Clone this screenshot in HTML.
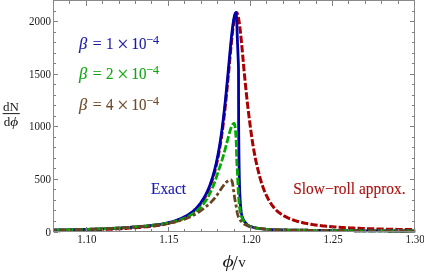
<!DOCTYPE html>
<html><head><meta charset="utf-8"><title>plot</title>
<style>
html,body{margin:0;padding:0;background:#fff;}
body{width:424px;height:273px;overflow:hidden;font-family:"Liberation Serif",serif;}
svg{display:block;will-change:transform;}
svg text{font-family:"Liberation Serif",serif;}
</style></head><body>
<svg width="424" height="273" viewBox="0 0 424 273">
<rect width="424" height="273" fill="#fff"/>
<defs><clipPath id="cp"><rect x="53" y="0" width="362.7" height="240"/></clipPath></defs>
<g fill="none" stroke-linejoin="miter" stroke-miterlimit="6" clip-path="url(#cp)">
<path d="M53.50,230.73 L55.50,230.71 L56.25,230.70 M58.41,230.66 L59.50,230.65 L61.50,230.62 L63.50,230.58 L65.50,230.55 L65.71,230.54 M67.87,230.50 L69.50,230.47 L71.50,230.43 L73.50,230.39 L75.16,230.36 M77.32,230.31 L77.50,230.31 L79.50,230.26 L81.50,230.21 L83.50,230.16 L84.62,230.13 M86.78,230.07 L87.50,230.05 L89.50,230.00 L91.50,229.94 L93.50,229.88 L94.08,229.86 M96.24,229.79 L97.50,229.74 L99.50,229.67 L101.50,229.60 L103.50,229.52 L103.53,229.52 M105.69,229.44 L107.50,229.36 L109.50,229.27 L111.50,229.18 L112.98,229.11 M115.14,229.00 L115.50,228.98 L117.50,228.87 L119.50,228.76 L121.50,228.64 L122.43,228.58 M124.58,228.44 L125.50,228.38 L127.50,228.24 L129.50,228.09 L131.50,227.95 L131.86,227.92 M134.02,227.78 L135.50,227.68 L137.50,227.53 L139.50,227.38 L141.30,227.23 M143.45,227.05 L143.50,227.04 L145.50,226.86 L147.50,226.66 L149.50,226.45 L150.71,226.32 M152.86,226.07 L153.50,225.99 L155.50,225.73 L157.50,225.46 L159.50,225.17 L160.09,225.07 M162.22,224.71 L163.50,224.48 L165.50,224.07 L167.50,223.63 L169.36,223.19 M171.45,222.65 L171.50,222.64 L173.50,222.08 L175.50,221.46 L177.50,220.77 L178.40,220.42 M180.40,219.62 L181.50,219.15 L183.50,218.22 L185.50,217.18 L186.93,216.36 M188.77,215.23 L189.50,214.75 L190.00,214.41 L190.25,214.24 L190.50,214.06 L190.75,213.88 L191.00,213.69 L191.25,213.51 L191.50,213.32 L191.75,213.13 L192.00,212.94 L192.25,212.74 L192.50,212.54 L192.75,212.34 L193.00,212.13 L193.25,211.92 L193.50,211.71 L193.75,211.49 L194.00,211.27 L194.25,211.05 L194.50,210.83 L194.55,210.78 M196.11,209.29 L196.25,209.15 L196.50,208.89 L196.75,208.63 L197.00,208.37 L197.25,208.10 L197.50,207.82 L197.75,207.55 L198.00,207.27 L198.25,206.98 L198.50,206.69 L198.75,206.39 L199.00,206.09 L199.25,205.78 L199.50,205.47 L199.75,205.16 L200.00,204.83 L200.25,204.51 L200.50,204.17 L200.75,203.83 L200.83,203.73 M202.06,201.96 L202.25,201.67 L202.50,201.29 L202.75,200.92 L203.00,200.54 L203.25,200.15 L203.50,199.76 L203.75,199.37 L204.00,198.96 L204.25,198.55 L204.50,198.13 L204.75,197.70 L205.00,197.26 L205.25,196.82 L205.50,196.36 L205.75,195.90 L205.85,195.72 M206.83,193.80 L207.00,193.46 L207.25,192.94 L207.50,192.41 L207.75,191.88 L208.00,191.33 L208.25,190.77 L208.50,190.20 L208.75,189.61 L209.00,189.02 L209.25,188.41 L209.50,187.80 L209.75,187.17 L209.77,187.12 M210.53,185.10 L210.75,184.51 L211.00,183.81 L211.25,183.10 L211.50,182.37 L211.75,181.62 L212.00,180.86 L212.25,180.09 L212.50,179.29 L212.75,178.48 L212.84,178.17 M213.46,176.10 L213.50,175.95 L213.75,175.10 L214.00,174.22 L214.25,173.34 L214.50,172.43 L214.75,171.50 L215.00,170.55 L215.25,169.58 L215.38,169.06 M215.90,166.96 L216.00,166.53 L216.25,165.47 L216.50,164.38 L216.75,163.27 L217.00,162.14 L217.25,160.98 L217.49,159.84 M217.92,157.72 L218.00,157.34 L218.25,156.07 L218.50,154.77 L218.75,153.45 L219.00,152.09 L219.25,150.70 L219.28,150.55 M219.65,148.42 L219.75,147.83 L220.00,146.35 L220.25,144.83 L220.50,143.28 L220.75,141.69 L220.82,141.22 M221.15,139.08 L221.25,138.41 L221.50,136.72 L221.75,134.97 L222.00,133.18 L222.18,131.86 M222.47,129.72 L222.50,129.49 L222.75,127.59 L223.00,125.65 L223.25,123.66 L223.40,122.47 M223.66,120.33 L223.75,119.58 L224.00,117.48 L224.25,115.34 L224.50,113.15 L224.51,113.08 M224.75,110.93 L224.75,110.93 L225.00,108.67 L225.25,106.37 L225.50,104.03 L225.54,103.68 M225.76,101.53 L226.00,99.24 L226.25,96.79 L226.50,94.31 L226.50,94.27 M226.72,92.12 L226.75,91.79 L227.00,89.24 L227.25,86.67 L227.42,84.85 M227.63,82.70 L227.75,81.43 L228.00,78.78 L228.25,76.11 L228.31,75.43 M228.51,73.28 L228.75,70.75 L229.00,68.06 L229.19,66.01 M229.39,63.86 L229.50,62.66 L229.75,59.97 L230.00,57.29 L230.06,56.59 M230.27,54.44 L230.50,51.97 L230.75,49.35 L230.96,47.18 M231.17,45.03 L231.25,44.21 L231.50,41.71 L231.75,39.26 L231.91,37.76 M232.14,35.62 L232.25,34.55 L232.50,32.31 L232.75,30.15 L232.97,28.36 M233.24,26.22 L233.25,26.11 L233.50,24.25 L233.75,22.50 L234.00,20.88 L234.25,19.39 L234.32,19.00 M234.74,16.88 L234.75,16.81 L235.00,15.74 L235.25,14.83 L235.50,14.07 L235.75,13.48 L236.00,13.05 L236.25,12.79 L236.50,12.70 L236.75,12.79 L237.00,13.04 L237.25,13.47 L237.50,14.07 L237.75,14.83 L237.76,14.88 M238.28,16.98 L238.50,18.06 L238.75,19.45 L239.00,20.97 L239.25,22.63 L239.47,24.18 M239.75,26.32 L239.75,26.32 L240.00,28.34 L240.25,30.46 L240.50,32.69 L240.60,33.57 M240.82,35.72 L241.00,37.39 L241.25,39.86 L241.50,42.40 L241.56,42.98 M241.76,45.13 L242.00,47.64 L242.25,50.33 L242.44,52.40 M242.64,54.55 L242.75,55.81 L243.00,58.58 L243.25,61.38 L243.29,61.82 M243.48,63.97 L243.50,64.19 L243.75,67.00 L244.00,69.81 L244.14,71.24 M244.34,73.39 L244.50,75.03 L244.75,77.61 L245.00,80.17 L245.05,80.66 M245.26,82.81 L245.50,85.20 L245.75,87.66 L246.00,90.07 M246.22,92.22 L246.25,92.50 L246.50,94.86 L246.75,97.18 L247.00,99.47 L247.00,99.48 M247.24,101.62 L247.25,101.72 L247.50,103.93 L247.75,106.10 L248.00,108.23 L248.08,108.88 M248.33,111.02 L248.50,112.38 L248.75,114.39 L249.00,116.36 L249.25,118.26 M249.53,120.40 L249.75,122.22 L250.00,124.21 L250.25,126.17 L250.44,127.65 M250.73,129.79 L250.75,129.96 L251.00,131.80 L251.25,133.60 L251.50,135.37 L251.74,137.02 M252.06,139.15 L252.25,140.44 L252.50,142.06 L252.75,143.65 L253.00,145.20 L253.19,146.36 M253.55,148.50 L253.75,149.65 L254.00,151.07 L254.25,152.46 L254.50,153.82 L254.75,155.15 L254.85,155.68 M255.26,157.80 L255.50,158.97 L255.75,160.18 L256.00,161.37 L256.25,162.54 L256.50,163.68 L256.75,164.79 L256.78,164.94 M257.27,167.04 L257.50,167.98 L257.75,169.00 L258.00,170.00 L258.25,170.97 L258.50,171.93 L258.75,172.94 L259.00,173.93 L259.05,174.12 M259.60,176.21 L259.75,176.78 L260.00,177.68 L260.25,178.57 L260.50,179.44 L260.75,180.29 L261.00,181.13 L261.25,181.94 L261.50,182.74 L261.65,183.22 M262.33,185.27 L262.50,185.77 L262.75,186.49 L263.00,187.20 L263.25,187.89 L263.50,188.56 L263.75,189.22 L264.00,189.87 L264.25,190.50 L264.50,191.13 L264.75,191.74 L264.90,192.10 M265.76,194.08 L266.00,194.60 L266.25,195.14 L266.50,195.67 L266.75,196.19 L267.00,196.70 L267.25,197.20 L267.50,197.69 L267.75,198.17 L268.00,198.64 L268.25,199.10 L268.50,199.55 L268.75,200.00 L269.00,200.43 L269.08,200.58 M270.20,202.42 L270.25,202.50 L270.50,202.89 L270.75,203.27 L271.00,203.65 L271.25,204.02 L271.50,204.38 L271.75,204.74 L272.00,205.09 L272.25,205.43 L272.50,205.77 L272.75,206.10 L273.00,206.43 L273.25,206.75 L273.50,207.06 L273.75,207.37 L274.00,207.67 L274.25,207.97 L274.50,208.26 L274.53,208.29 M275.98,209.90 L276.00,209.92 L276.25,210.18 L276.50,210.43 L276.75,210.66 L277.00,210.88 L277.25,211.09 L277.50,211.31 L277.75,211.52 L278.00,211.72 L278.25,211.93 L278.50,212.13 L278.75,212.32 L279.00,212.52 L279.25,212.71 L279.50,212.90 L279.75,213.08 L280.00,213.26 L280.25,213.44 L280.50,213.62 L280.75,213.79 L281.00,213.96 L281.25,214.13 L281.50,214.30 L281.69,214.42 M283.52,215.56 L283.75,215.69 L284.00,215.84 L284.25,215.98 L284.50,216.12 L284.75,216.26 L285.00,216.39 L286.00,216.92 L287.00,217.41 L288.00,217.89 L289.00,218.33 L290.00,218.76 L290.07,218.78 M292.08,219.57 L293.00,219.91 L294.00,220.26 L295.00,220.59 L296.00,220.90 L297.00,221.20 L298.00,221.49 L299.00,221.77 L299.03,221.78 M301.13,222.31 L302.00,222.52 L303.00,222.75 L304.00,222.98 L305.00,223.19 L306.00,223.39 L307.00,223.59 L308.00,223.78 L308.27,223.82 M310.39,224.20 L311.00,224.30 L312.00,224.46 L313.00,224.61 L314.00,224.76 L315.00,224.91 L316.00,225.05 L317.00,225.18 L317.62,225.26 M319.76,225.53 L320.00,225.56 L321.00,225.67 L322.00,225.79 L323.00,225.90 L324.00,226.00 L325.00,226.11 L326.00,226.21 L327.00,226.31 L327.02,226.31 M329.17,226.51 L330.00,226.58 L331.00,226.67 L332.00,226.75 L333.00,226.84 L334.00,226.92 L335.00,226.99 L336.00,227.07 L336.44,227.10 M338.60,227.25 L339.00,227.28 L340.00,227.35 L341.00,227.41 L342.00,227.48 L343.00,227.54 L344.00,227.60 L345.00,227.66 L345.88,227.71 M348.04,227.82 L349.00,227.87 L350.00,227.93 L351.00,227.98 L352.00,228.02 L353.00,228.07 L354.00,228.12 L355.00,228.16 L355.33,228.18 M357.49,228.27 L358.00,228.29 L359.00,228.33 L360.00,228.37 L361.00,228.41 L362.00,228.45 L363.00,228.49 L364.00,228.52 L364.78,228.55 M366.94,228.63 L367.00,228.63 L368.00,228.66 L369.00,228.69 L370.00,228.73 L371.00,228.76 L372.00,228.79 L373.00,228.82 L374.00,228.85 L374.24,228.85 M376.40,228.91 L377.00,228.93 L378.00,228.96 L379.00,228.98 L380.00,229.01 L381.00,229.04 L382.00,229.06 L383.00,229.09 L383.70,229.10 M385.86,229.15 L386.00,229.16 L387.00,229.18 L388.00,229.20 L389.00,229.22 L390.00,229.24 L391.00,229.26 L392.00,229.28 L393.00,229.30 L393.15,229.31 M395.31,229.35 L396.00,229.36 L397.00,229.38 L398.00,229.40 L399.00,229.42 L400.00,229.44 L401.00,229.45 L402.00,229.47 L402.61,229.48 M404.77,229.52 L405.00,229.52 L406.00,229.54 L407.00,229.55 L408.00,229.57 L409.00,229.58 L410.00,229.60 L411.00,229.61 L412.00,229.63 L412.07,229.63 M414.23,229.66 L415.00,229.67" stroke="#aa0000" stroke-width="3.0"/>
<path d="M53.50,230.03 L55.50,230.00 L57.50,229.97 L59.50,229.94 L61.50,229.91 L63.50,229.87 L65.50,229.84 L67.50,229.80 L69.50,229.76 L71.50,229.72 L73.50,229.68 L75.50,229.64 L77.50,229.59 L79.50,229.55 L81.50,229.50 L83.50,229.45 L85.50,229.40 L87.50,229.34 L89.50,229.28 L91.50,229.22 L93.50,229.16 L95.50,229.09 L97.50,229.03 L99.50,228.96 L101.50,228.88 L103.50,228.80 L105.50,228.72 L107.50,228.64 L109.50,228.55 L111.50,228.46 L113.50,228.36 L115.50,228.25 L117.50,228.14 L119.50,228.03 L121.50,227.91 L123.50,227.78 L125.50,227.64 L127.50,227.50 L129.50,227.35 L131.50,227.22 L133.50,227.08 L135.50,226.94 L137.50,226.80 L139.50,226.64 L141.50,226.47 L143.50,226.30 L145.50,226.11 L147.50,225.91 L149.50,225.70 L151.50,225.47 L153.50,225.23 L155.50,224.97 L157.50,224.69 L159.50,224.39 L161.50,224.06 L163.50,223.68 L165.50,223.27 L167.50,222.82 L169.50,222.33 L171.50,221.80 L173.50,221.23 L175.50,220.59 L177.50,219.90 L179.50,219.14 L181.50,218.29 L183.50,217.36 L185.50,216.32 L187.50,215.16 L189.50,213.87 L190.00,213.52 L190.25,213.34 L190.50,213.16 L190.75,212.98 L191.00,212.80 L191.25,212.61 L191.50,212.42 L191.75,212.22 L192.00,212.03 L192.25,211.83 L192.50,211.62 L192.75,211.42 L193.00,211.21 L193.25,210.99 L193.50,210.78 L193.75,210.56 L194.00,210.34 L194.25,210.11 L194.50,209.88 L194.75,209.65 L195.00,209.41 L195.25,209.17 L195.50,208.92 L195.75,208.68 L196.00,208.42 L196.25,208.17 L196.50,207.91 L196.75,207.64 L197.00,207.37 L197.25,207.10 L197.50,206.82 L197.75,206.53 L198.00,206.24 L198.25,205.95 L198.50,205.65 L198.75,205.35 L199.00,205.04 L199.25,204.73 L199.50,204.41 L199.75,204.08 L200.00,203.75 L200.25,203.42 L200.50,203.07 L200.75,202.73 L201.00,202.37 L201.25,202.01 L201.50,201.64 L201.75,201.27 L202.00,200.89 L202.25,200.52 L202.50,200.15 L202.75,199.77 L203.00,199.38 L203.25,198.98 L203.50,198.58 L203.75,198.17 L204.00,197.75 L204.25,197.33 L204.50,196.89 L204.75,196.45 L205.00,196.00 L205.25,195.54 L205.50,195.08 L205.75,194.60 L206.00,194.11 L206.25,193.62 L206.50,193.12 L206.75,192.60 L207.00,192.08 L207.25,191.54 L207.50,190.99 L207.75,190.44 L208.00,189.87 L208.25,189.29 L208.50,188.70 L208.75,188.10 L209.00,187.48 L209.25,186.85 L209.50,186.21 L209.75,185.56 L210.00,184.89 L210.25,184.21 L210.50,183.51 L210.75,182.80 L211.00,182.07 L211.25,181.33 L211.50,180.58 L211.75,179.80 L212.00,179.01 L212.25,178.21 L212.50,177.38 L212.75,176.54 L213.00,175.68 L213.25,174.83 L213.50,173.96 L213.75,173.08 L214.00,172.17 L214.25,171.24 L214.50,170.30 L214.75,169.33 L215.00,168.34 L215.25,167.33 L215.50,166.29 L215.75,165.23 L216.00,164.15 L216.25,163.04 L216.50,161.91 L216.75,160.76 L217.00,159.57 L217.25,158.36 L217.50,157.12 L217.75,155.86 L218.00,154.56 L218.25,153.24 L218.50,151.89 L218.75,150.50 L219.00,149.08 L219.25,147.64 L219.50,146.15 L219.75,144.64 L220.00,143.09 L220.25,141.51 L220.50,139.89 L220.75,138.23 L221.00,136.54 L221.25,134.80 L221.50,133.01 L221.75,131.19 L222.00,129.33 L222.25,127.43 L222.50,125.49 L222.75,123.51 L223.00,121.49 L223.25,119.43 L223.50,117.33 L223.75,115.19 L224.00,113.01 L224.25,110.79 L224.50,108.53 L224.75,106.24 L225.00,103.90 L225.25,101.53 L225.50,99.12 L225.75,96.67 L226.00,94.19 L226.25,91.68 L226.50,89.13 L226.75,86.56 L227.00,83.96 L227.25,81.33 L227.50,78.68 L227.75,76.02 L228.00,73.34 L228.25,70.64 L228.50,67.93 L228.75,65.22 L229.00,62.51 L229.25,59.80 L229.50,57.11 L229.75,54.43 L230.00,51.77 L230.25,49.15 L230.50,46.56 L230.75,44.00 L231.00,41.50 L231.25,39.06 L231.50,36.67 L231.75,34.36 L232.00,32.12 L232.25,29.97 L232.50,27.91 L232.75,25.96 L233.00,24.11 L233.25,22.38 L233.50,20.77 L233.75,19.29 L234.00,17.94 L234.25,16.74 L234.50,15.69 L234.75,14.78 L235.00,14.04 L235.25,13.46 L235.50,13.04 L235.75,12.78 L236.00,12.70 L236.08,13.00 L236.30,14.00 L236.39,15.00 L236.45,16.00 L236.50,17.00 L236.55,18.00 L236.60,19.00 L236.66,20.00 L236.70,21.00 L236.75,22.00 L236.79,23.00 L236.84,24.00 L236.88,25.00 L236.92,26.00 L236.95,27.00 L236.99,28.00 L237.03,29.00 L237.06,30.00 L237.10,31.00 L237.14,32.00 L237.17,33.00 L237.20,34.00 L237.23,35.00 L237.26,36.00 L237.30,37.00 L237.33,38.00 L237.36,39.00 L237.40,40.00 L237.44,41.00 L237.48,42.00 L237.52,43.00 L237.56,44.00 L237.61,45.00 L237.65,46.00 L237.69,47.00 L237.74,48.00 L237.78,49.00 L237.82,50.00 L237.86,51.00 L237.90,52.00 L237.94,53.00 L237.98,54.00 L238.02,55.00 L238.06,56.00 L238.11,57.00 L238.15,58.00 L238.19,59.00 L238.23,60.00 L238.27,61.00 L238.31,62.00 L238.35,63.00 L238.38,64.00 L238.41,65.00 L238.44,66.00 L238.46,67.00 L238.48,68.00 L238.49,69.00 L238.50,70.00 L238.50,71.00 L238.51,72.00 L238.51,73.00 L238.52,74.00 L238.52,75.00 L238.52,76.00 L238.53,77.00 L238.53,78.00 L238.53,79.00 L238.54,80.00 L238.54,81.00 L238.54,82.00 L238.54,83.00 L238.54,84.00 L238.55,85.00 L238.55,86.00 L238.55,87.00 L238.55,88.00 L238.55,89.00 L238.55,90.00 L238.55,91.00 L238.56,92.00 L238.56,93.00 L238.56,94.00 L238.56,95.00 L238.56,96.00 L238.56,97.00 L238.56,98.00 L238.56,99.00 L238.57,100.00 L238.57,101.00 L238.57,102.00 L238.57,103.00 L238.57,104.00 L238.57,105.00 L238.58,106.00 L238.58,107.00 L238.58,108.00 L238.58,109.00 L238.58,110.00 L238.59,111.00 L238.59,112.00 L238.59,113.00 L238.60,114.00 L238.60,115.00 L238.60,116.00 L238.61,117.00 L238.61,118.00 L238.62,119.00 L238.62,120.00 L238.63,121.00 L238.63,122.00 L238.64,123.00 L238.65,124.00 L238.65,125.00 L238.66,126.00 L238.67,127.00 L238.68,128.00 L238.69,129.00 L238.69,130.00 L238.70,131.00 L238.71,132.00 L238.72,133.00 L238.73,134.00 L238.74,135.00 L238.75,136.00 L238.76,137.00 L238.77,138.00 L238.78,139.00 L238.79,140.00 L238.80,141.00 L238.81,142.00 L238.82,143.00 L238.83,144.00 L238.84,145.00 L238.85,146.00 L238.87,147.00 L238.88,148.00 L238.89,149.00 L238.90,150.00 L238.91,151.00 L238.92,152.00 L238.93,153.00 L238.95,154.00 L238.96,155.00 L238.97,156.00 L238.98,157.00 L239.00,158.00 L239.01,159.00 L239.02,160.00 L239.04,161.00 L239.05,162.00 L239.06,163.00 L239.08,164.00 L239.09,165.00 L239.11,166.00 L239.13,167.00 L239.14,168.00 L239.16,169.00 L239.17,170.00 L239.19,171.00 L239.21,172.00 L239.23,173.00 L239.25,174.00 L239.27,175.00 L239.29,176.00 L239.31,177.00 L239.33,178.00 L239.35,179.00 L239.38,180.00 L239.40,181.00 L239.42,182.00 L239.45,183.00 L239.47,184.00 L239.50,185.00 L239.53,186.00 L239.56,187.00 L239.59,188.00 L239.63,189.00 L239.67,190.00 L239.71,191.00 L239.75,192.00 L239.79,193.00 L239.84,194.00 L239.89,195.00 L239.94,196.00 L240.00,197.00 L240.05,198.00 L240.11,199.00 L240.17,200.00 L240.23,201.00 L240.30,202.00 L240.36,203.00 L240.43,204.00 L240.50,205.00 L240.58,206.00 L240.66,207.00 L240.76,208.00 L240.87,209.00 L240.97,210.00 L241.09,211.00 L241.20,212.00 L241.45,213.53 L241.95,215.89 L242.45,217.60 L242.95,218.89 L243.45,219.87 L243.95,220.66 L244.45,221.35 L244.95,221.99 L245.45,222.62 L245.95,223.23 L246.45,223.80 L246.95,224.33 L247.45,224.79 L247.95,225.18 L248.45,225.48 L248.95,225.74 L249.45,225.99 L249.95,226.21 L250.45,226.42 L250.95,226.61 L251.45,226.79 L251.95,226.95 L252.45,227.11 L252.95,227.25 L253.45,227.38 L253.95,227.51 L254.45,227.62 L254.95,227.73 L255.45,227.84 L255.95,227.94 L256.45,228.03 L256.95,228.12 L257.45,228.21 L257.95,228.29 L258.45,228.37 L258.95,228.45 L259.45,228.52 L259.95,228.59 L260.45,228.66 L260.95,228.72 L261.45,228.78 L261.95,228.84 L262.45,228.89 L262.95,228.95 L263.45,229.00 L263.95,229.06 L264.45,229.11 L264.95,229.17 L265.45,229.22 L265.95,229.27 L266.45,229.32 L266.95,229.37 L267.45,229.41 L267.95,229.46 L268.45,229.50 L268.95,229.53 L269.45,229.57 L269.95,229.60 L270.45,229.63 L270.95,229.66 L271.45,229.68 L271.95,229.70 L272.45,229.71 L272.95,229.73 L273.45,229.74 L273.95,229.76 L274.45,229.77 L274.95,229.79 L275.45,229.80 L275.95,229.81 L276.45,229.82 L276.95,229.84 L277.45,229.85 L277.95,229.86 L278.45,229.87 L278.95,229.88 L279.45,229.89 L279.95,229.90 L280.45,229.91 L280.95,229.92 L281.45,229.93 L281.95,229.94 L282.45,229.95 L282.95,229.96 L283.45,229.97 L283.95,229.97 L284.45,229.98 L284.95,229.99 L285.45,230.00 L285.95,230.00 L286.45,230.01 L286.95,230.02 L287.45,230.03 L287.95,230.03 L288.45,230.04 L288.95,230.05 L289.45,230.05 L289.95,230.06 L290.45,230.06 L290.95,230.07 L291.45,230.08 L291.95,230.08 L292.45,230.09 L292.95,230.09 L293.45,230.10 L293.95,230.10 L294.45,230.11 L294.95,230.12 L295.45,230.12 L295.95,230.13 L296.45,230.13 L296.95,230.14 L297.45,230.14 L297.95,230.15 L298.45,230.16 L298.95,230.16 L299.45,230.17 L299.95,230.17 L300.45,230.18 L300.95,230.19 L301.45,230.19 L301.95,230.20 L302.45,230.21 L302.95,230.21 L303.45,230.22 L303.95,230.23 L304.45,230.23 L304.95,230.24 L305.45,230.24 L305.95,230.25 L306.45,230.26 L306.95,230.26 L307.45,230.27 L307.95,230.27 L308.45,230.28 L308.95,230.29 L309.45,230.29 L309.95,230.30 L310.45,230.30 L310.95,230.31 L311.45,230.32 L311.95,230.32 L312.45,230.33 L312.95,230.33 L313.45,230.34 L313.95,230.35 L314.45,230.35 L314.95,230.36 L315.45,230.36 L315.95,230.37 L316.45,230.37 L316.95,230.38 L317.45,230.38 L317.95,230.39 L318.45,230.40 L318.95,230.40 L319.45,230.41 L319.95,230.41 L320.45,230.42 L320.95,230.42 L321.45,230.43 L321.95,230.43 L322.45,230.44 L322.95,230.44 L323.45,230.45 L323.95,230.45 L324.45,230.46 L324.95,230.46 L325.45,230.47 L325.95,230.47 L326.45,230.48 L326.95,230.48 L327.45,230.49 L327.95,230.49 L328.45,230.50 L328.95,230.50 L329.45,230.51 L329.95,230.51 L330.45,230.52 L330.95,230.52 L331.45,230.53 L331.95,230.53 L332.45,230.53 L332.95,230.54 L333.45,230.54 L333.95,230.55 L334.45,230.55 L334.95,230.56 L335.45,230.56 L335.95,230.57 L336.45,230.57 L336.95,230.57 L337.45,230.58 L337.95,230.58 L338.45,230.59 L338.95,230.59 L339.45,230.60 L339.95,230.60 L340.45,230.60 L340.95,230.61 L341.45,230.61 L341.95,230.62 L342.45,230.62 L342.95,230.62 L343.45,230.63 L343.95,230.63 L344.45,230.64 L344.95,230.64 L345.45,230.65 L345.95,230.65 L346.45,230.66 L346.95,230.66 L347.45,230.66 L347.95,230.67 L348.45,230.67 L348.95,230.68 L349.45,230.68 L349.95,230.69 L350.45,230.69 L350.95,230.70 L351.45,230.70 L351.95,230.70 L352.45,230.71 L352.95,230.71 L353.45,230.72 L353.95,230.72 L354.45,230.73 L354.95,230.73 L355.45,230.74 L355.95,230.74 L356.45,230.75 L356.95,230.75 L357.45,230.75 L357.95,230.76 L358.45,230.76 L358.95,230.77 L359.45,230.77 L359.95,230.78 L360.45,230.78 L360.95,230.79 L361.45,230.79 L361.95,230.79 L362.45,230.80 L362.95,230.80 L363.45,230.81 L363.95,230.81 L364.45,230.82 L364.95,230.82 L365.45,230.82 L365.95,230.83 L366.45,230.83 L366.95,230.84 L367.45,230.84 L367.95,230.85 L368.45,230.85 L368.95,230.85 L369.45,230.86 L369.95,230.86 L370.45,230.87 L370.95,230.87 L371.45,230.87 L371.95,230.88 L372.45,230.88 L372.95,230.89 L373.45,230.89 L373.95,230.89 L374.45,230.90 L374.95,230.90 L375.45,230.90 L375.95,230.91 L376.45,230.91 L376.95,230.91 L377.45,230.92 L377.95,230.92 L378.45,230.92 L378.95,230.93 L379.45,230.93 L379.95,230.93 L380.45,230.94 L380.95,230.94 L381.45,230.94 L381.95,230.94 L382.45,230.95 L382.95,230.95 L383.45,230.95 L383.95,230.96 L384.45,230.96 L384.95,230.96 L385.45,230.96 L385.95,230.97 L386.45,230.97 L386.95,230.97 L387.45,230.97 L387.95,230.97 L388.45,230.98 L388.95,230.98 L389.45,230.98 L389.95,230.98 L390.45,230.98 L390.95,230.99 L391.45,230.99 L391.95,230.99 L392.45,230.99 L392.95,230.99 L393.45,230.99 L393.95,230.99 L394.45,230.99 L394.95,231.00 L395.45,231.00 L395.95,231.00 L396.45,231.00 L396.95,231.00 L397.45,231.00 L397.95,231.00 L398.45,231.00 L398.95,231.00 L399.45,231.00 L399.95,231.00 L400.45,231.00 L400.95,231.00 L401.45,231.00 L401.95,231.00 L402.45,231.00 L402.95,231.00 L403.45,231.00 L403.95,231.00 L404.45,231.00 L404.95,231.00 L405.45,231.00 L405.95,231.00 L406.45,231.00 L406.95,231.00 L407.45,231.00 L407.95,231.00 L408.45,231.00 L408.95,231.00 L409.45,231.00 L409.95,231.00 L410.45,231.00 L410.95,231.00 L411.45,231.00 L411.95,231.00 L412.45,231.00 L412.95,231.00 L413.45,231.00 L413.95,231.00 L414.45,231.00 L414.95,231.00 L415.45,231.00" stroke="#0000aa" stroke-width="2.8"/>
<path d="M53.50,230.01 L54.33,230.00 M56.53,229.97 L57.50,229.95 L59.50,229.92 L61.50,229.89 L63.50,229.85 L63.83,229.85 M66.03,229.81 L67.50,229.78 L69.50,229.74 L71.50,229.70 L73.33,229.66 M75.52,229.61 L77.50,229.57 L79.50,229.52 L81.50,229.47 L82.82,229.43 M85.02,229.37 L85.50,229.36 L87.50,229.30 L89.50,229.24 L91.50,229.18 L92.32,229.16 M94.52,229.08 L95.50,229.05 L97.50,228.99 L99.50,228.92 L101.50,228.85 L101.81,228.83 M104.01,228.75 L105.50,228.69 L107.50,228.61 L109.50,228.52 L111.30,228.44 M113.50,228.34 L115.50,228.23 L117.50,228.13 L119.50,228.02 L120.79,227.94 M122.99,227.81 L123.50,227.77 L125.50,227.64 L127.50,227.51 L129.50,227.36 L130.27,227.30 M132.46,227.13 L133.50,227.04 L135.50,226.89 L137.50,226.75 L139.50,226.60 L139.74,226.58 M141.94,226.40 L143.50,226.27 L145.50,226.09 L147.50,225.90 L149.20,225.73 M151.39,225.50 L151.50,225.48 L153.50,225.25 L155.50,225.01 L157.50,224.74 L158.63,224.58 M160.81,224.26 L161.50,224.15 L163.50,223.83 L165.50,223.47 L167.50,223.09 L168.00,222.99 M170.15,222.54 L171.50,222.23 L173.50,221.75 L175.50,221.22 L177.22,220.72 M179.32,220.07 L179.50,220.01 L181.50,219.31 L183.50,218.55 L185.50,217.71 L186.12,217.42 M188.10,216.47 L189.50,215.74 L190.00,215.47 L190.25,215.33 L190.50,215.18 L190.75,215.04 L191.00,214.89 L191.25,214.74 L191.50,214.59 L191.75,214.44 L192.00,214.28 L192.25,214.13 L192.50,213.97 L192.75,213.80 L193.00,213.64 L193.25,213.47 L193.50,213.30 L193.75,213.13 L194.00,212.96 L194.25,212.78 L194.35,212.71 M196.11,211.39 L196.25,211.28 L196.50,211.08 L196.75,210.87 L197.00,210.66 L197.25,210.45 L197.50,210.24 L197.75,210.02 L198.00,209.80 L198.25,209.58 L198.50,209.35 L198.75,209.12 L199.00,208.89 L199.25,208.65 L199.50,208.41 L199.75,208.17 L200.00,207.92 L200.25,207.66 L200.50,207.41 L200.75,207.15 L201.00,206.88 L201.25,206.61 L201.44,206.41 M202.87,204.74 L203.00,204.58 L203.25,204.26 L203.50,203.93 L203.75,203.60 L204.00,203.26 L204.25,202.91 L204.50,202.56 L204.75,202.21 L205.00,201.85 L205.25,201.48 L205.50,201.11 L205.75,200.73 L206.00,200.34 L206.25,199.95 L206.50,199.55 L206.75,199.15 L207.00,198.74 L207.00,198.73 M208.11,196.83 L208.25,196.57 L208.50,196.12 L208.75,195.65 L209.00,195.18 L209.25,194.71 L209.50,194.22 L209.75,193.73 L210.00,193.22 L210.25,192.71 L210.50,192.19 L210.75,191.67 L211.00,191.13 L211.25,190.58 L211.38,190.30 M212.26,188.29 L212.50,187.72 L212.75,187.12 L213.00,186.51 L213.25,185.89 L213.50,185.26 L213.75,184.62 L214.00,183.97 L214.25,183.31 L214.50,182.64 L214.75,181.96 L214.92,181.49 M215.65,179.42 L215.75,179.13 L216.00,178.40 L216.25,177.65 L216.50,176.90 L216.75,176.13 L217.00,175.36 L217.25,174.57 L217.50,173.77 L217.75,172.97 L217.90,172.47 M218.61,170.39 L218.75,170.00 L219.00,169.30 L219.25,168.60 L219.50,167.88 L219.75,167.15 L220.00,166.41 L220.25,165.66 L220.50,164.90 L220.75,164.13 L220.96,163.48 M221.63,161.38 L221.75,161.02 L222.00,160.21 L222.25,159.40 L222.50,158.57 L222.75,157.74 L223.00,156.89 L223.25,156.04 L223.50,155.17 L223.72,154.39 M224.32,152.27 L224.50,151.61 L224.75,150.69 L225.00,149.77 L225.25,148.85 L225.50,147.91 L225.75,146.97 L226.00,146.03 L226.21,145.22 M226.77,143.09 L227.00,142.23 L227.25,141.28 L227.50,140.33 L227.75,139.39 L228.00,138.43 L228.25,137.46 L228.50,136.49 L228.62,136.03 M229.19,133.91 L229.25,133.71 L229.50,132.82 L229.75,131.96 L230.00,131.13 L230.25,130.32 L230.50,129.55 L230.75,128.81 L231.00,128.11 L231.25,127.45 L231.44,126.97 M232.40,124.99 L232.50,124.81 L232.75,124.44 L233.00,124.12 L233.25,123.85 L233.50,123.65 L233.75,123.50 L234.00,123.42 L234.32,123.70 L234.69,124.70 L234.93,125.70 L235.08,126.70 L235.19,127.70 L235.24,128.16 M235.43,130.35 L235.46,130.70 L235.55,131.70 L235.64,132.70 L235.72,133.70 L235.80,134.70 L235.87,135.70 L235.94,136.70 L236.00,137.63 M236.12,139.83 L236.16,140.70 L236.20,141.70 L236.24,142.70 L236.27,143.70 L236.31,144.70 L236.34,145.70 L236.37,146.70 L236.38,147.12 M236.45,149.32 L236.46,149.70 L236.48,150.70 L236.51,151.70 L236.53,152.70 L236.56,153.70 L236.59,154.70 L236.61,155.70 L236.64,156.62 M236.71,158.82 L236.74,159.70 L236.78,160.70 L236.81,161.70 L236.86,162.70 L236.90,163.70 L236.95,164.70 L237.02,165.70 L237.04,166.11 M237.19,168.30 L237.22,168.70 L237.28,169.70 L237.34,170.70 L237.39,171.70 L237.43,172.70 L237.48,173.70 L237.52,174.70 L237.56,175.59 M237.65,177.79 L237.69,178.70 L237.73,179.70 L237.77,180.70 L237.81,181.70 L237.85,182.70 L237.89,183.70 L237.94,184.70 L237.95,185.08 M238.06,187.28 L238.08,187.70 L238.14,188.70 L238.19,189.70 L238.25,190.70 L238.31,191.70 L238.37,192.70 L238.43,193.70 L238.48,194.57 M238.62,196.77 L238.69,197.70 L238.76,198.70 L238.84,199.70 L238.91,200.70 L239.00,201.70 L239.08,202.70 L239.18,203.70 L239.21,204.04 M239.44,206.23 L239.49,206.70 L239.63,207.70 L239.77,208.70 L239.93,209.70 L240.09,210.70 L240.25,211.70 L240.55,213.01 L240.66,213.42 M241.26,215.54 L241.55,216.44 L242.05,217.77 L242.55,218.96 L243.05,219.99 L243.55,220.84 L244.05,221.61 L244.39,222.09 M245.79,223.78 L246.05,224.04 L246.55,224.46 L247.05,224.82 L247.55,225.13 L248.05,225.41 L248.55,225.67 L249.05,225.90 L249.55,226.12 L250.05,226.32 L250.55,226.52 L251.05,226.70 L251.55,226.88 L252.05,227.05 L252.22,227.11 M254.34,227.70 L254.55,227.75 L255.05,227.85 L255.55,227.95 L256.05,228.04 L256.55,228.12 L257.05,228.20 L257.55,228.28 L258.05,228.36 L258.55,228.43 L259.05,228.50 L259.55,228.56 L260.05,228.62 L260.55,228.68 L261.05,228.74 L261.55,228.80 L261.55,228.80 M263.74,229.03 L264.05,229.07 L264.55,229.12 L265.05,229.17 L265.55,229.22 L266.05,229.27 L266.55,229.32 L267.05,229.37 L267.55,229.42 L268.05,229.46 L268.55,229.50 L269.05,229.54 L269.55,229.58 L270.05,229.61 L270.55,229.64 L271.01,229.66 M273.21,229.74 L273.55,229.75 L274.05,229.76 L274.55,229.77 L275.05,229.79 L275.55,229.80 L276.05,229.81 L276.55,229.83 L277.05,229.84 L277.55,229.85 L278.05,229.86 L278.55,229.87 L279.05,229.88 L279.55,229.89 L280.05,229.90 L280.51,229.91 M282.71,229.95 L283.05,229.96 L283.55,229.97 L284.05,229.98 L284.55,229.98 L285.05,229.99 L285.55,230.00 L286.05,230.01 L286.55,230.01 L287.05,230.02 L287.55,230.03 L288.05,230.03 L288.55,230.04 L289.05,230.05 L289.55,230.05 L290.00,230.06 M292.20,230.08 L292.55,230.09 L293.05,230.09 L293.55,230.10 L294.05,230.11 L294.55,230.11 L295.05,230.12 L295.55,230.12 L296.05,230.13 L296.55,230.13 L297.05,230.14 L297.55,230.15 L298.05,230.15 L298.55,230.16 L299.05,230.16 L299.50,230.17 M301.70,230.20 L302.05,230.20 L302.55,230.21 L303.05,230.21 L303.55,230.22 L304.05,230.23 L304.55,230.23 L305.05,230.24 L305.55,230.25 L306.05,230.25 L306.55,230.26 L307.05,230.26 L307.55,230.27 L308.05,230.28 L308.55,230.28 L309.00,230.29 M311.20,230.31 L311.55,230.32 L312.05,230.32 L312.55,230.33 L313.05,230.34 L313.55,230.34 L314.05,230.35 L314.55,230.35 L315.05,230.36 L315.55,230.36 L316.05,230.37 L316.55,230.37 L317.05,230.38 L317.55,230.39 L318.05,230.39 L318.50,230.40 M320.70,230.42 L321.05,230.42 L321.55,230.43 L322.05,230.43 L322.55,230.44 L323.05,230.44 L323.55,230.45 L324.05,230.45 L324.55,230.46 L325.05,230.46 L325.55,230.47 L326.05,230.47 L326.55,230.48 L327.05,230.48 L327.55,230.49 L328.00,230.49 M330.20,230.51 L330.55,230.52 L331.05,230.52 L331.55,230.53 L332.05,230.53 L332.55,230.54 L333.05,230.54 L333.55,230.54 L334.05,230.55 L334.55,230.55 L335.05,230.56 L335.55,230.56 L336.05,230.57 L336.55,230.57 L337.05,230.58 L337.50,230.58 M339.70,230.60 L340.05,230.60 L340.55,230.60 L341.05,230.61 L341.55,230.61 L342.05,230.62 L342.55,230.62 L343.05,230.63 L343.55,230.63 L344.05,230.63 L344.55,230.64 L345.05,230.64 L345.55,230.65 L346.05,230.65 L346.55,230.66 L347.00,230.66 M349.20,230.68 L349.55,230.68 L350.05,230.69 L350.55,230.69 L351.05,230.70 L351.55,230.70 L352.05,230.71 L352.55,230.71 L353.05,230.71 L353.55,230.72 L354.05,230.72 L354.55,230.73 L355.05,230.73 L355.55,230.74 L356.05,230.74 L356.50,230.75 M358.70,230.77 L359.05,230.77 L359.55,230.77 L360.05,230.78 L360.55,230.78 L361.05,230.79 L361.55,230.79 L362.05,230.80 L362.55,230.80 L363.05,230.80 L363.55,230.81 L364.05,230.81 L364.55,230.82 L365.05,230.82 L365.55,230.83 L366.00,230.83 M368.20,230.85 L368.55,230.85 L369.05,230.85 L369.55,230.86 L370.05,230.86 L370.55,230.87 L371.05,230.87 L371.55,230.87 L372.05,230.88 L372.55,230.88 L373.05,230.89 L373.55,230.89 L374.05,230.89 L374.55,230.90 L375.05,230.90 L375.50,230.90 M377.70,230.92 L378.05,230.92 L378.55,230.92 L379.05,230.93 L379.55,230.93 L380.05,230.93 L380.55,230.94 L381.05,230.94 L381.55,230.94 L382.05,230.95 L382.55,230.95 L383.05,230.95 L383.55,230.95 L384.05,230.96 L384.55,230.96 L385.00,230.96 M387.20,230.97 L387.55,230.97 L388.05,230.97 L388.55,230.98 L389.05,230.98 L389.55,230.98 L390.05,230.98 L390.55,230.98 L391.05,230.99 L391.55,230.99 L392.05,230.99 L392.55,230.99 L393.05,230.99 L393.55,230.99 L394.05,230.99 L394.50,230.99 M396.70,231.00 L397.05,231.00 L397.55,231.00 L398.05,231.00 L398.55,231.00 L399.05,231.00 L399.55,231.00 L400.05,231.00 L400.55,231.00 L401.05,231.00 L401.55,231.00 L402.05,231.00 L402.55,231.00 L403.05,231.00 L403.55,231.00 L404.00,231.00 M406.20,231.00 L406.55,231.00 L407.05,231.00 L407.55,231.00 L408.05,231.00 L408.55,231.00 L409.05,231.00 L409.55,231.00 L410.05,231.00 L410.55,231.00 L411.05,231.00 L411.55,231.00 L412.05,231.00 L412.55,231.00 L413.05,231.00 L413.50,231.00" stroke="#00aa00" stroke-width="2.8"/>
<path d="M53.50,229.99 L55.50,229.96 L56.20,229.95 M58.90,229.91 L59.50,229.90 L61.50,229.86 L63.50,229.83 L65.50,229.79 L66.30,229.77 M68.90,229.72 L69.50,229.71 L71.50,229.67 L71.90,229.66 M74.60,229.60 L75.50,229.58 L77.50,229.53 L79.50,229.49 L81.50,229.43 L82.00,229.42 M84.59,229.35 L85.50,229.33 L87.50,229.27 L87.59,229.27 M90.29,229.18 L91.50,229.14 L93.50,229.08 L95.50,229.01 L97.50,228.94 L97.69,228.93 M100.29,228.84 L101.50,228.79 L103.28,228.72 M105.98,228.61 L107.50,228.55 L109.50,228.46 L111.50,228.36 L113.37,228.27 M115.97,228.13 L117.50,228.05 L118.97,227.96 M121.66,227.80 L123.50,227.68 L125.50,227.55 L127.50,227.41 L129.04,227.29 M131.64,227.10 L133.50,226.99 L134.63,226.93 M137.33,226.76 L137.50,226.75 L139.50,226.62 L141.50,226.47 L143.50,226.32 L144.71,226.23 M147.30,226.02 L147.50,226.00 L149.50,225.82 L150.29,225.75 M152.97,225.49 L153.50,225.43 L155.50,225.22 L157.50,224.97 L159.50,224.71 L160.32,224.60 M162.89,224.23 L163.50,224.14 L165.50,223.82 L165.85,223.75 M168.51,223.28 L169.50,223.10 L171.50,222.70 L173.50,222.27 L175.50,221.80 L175.75,221.74 M178.26,221.08 L179.50,220.74 L180.00,220.59 L180.25,220.52 L180.50,220.45 L180.75,220.37 L181.00,220.29 L181.15,220.25 M183.71,219.41 L183.75,219.40 L184.00,219.31 L184.25,219.22 L184.50,219.13 L184.75,219.04 L185.00,218.95 L185.25,218.86 L185.50,218.77 L185.75,218.67 L186.00,218.58 L186.25,218.49 L186.50,218.39 L186.75,218.30 L187.00,218.20 L187.25,218.10 L187.50,218.00 L187.75,217.90 L188.00,217.80 L188.25,217.70 L188.50,217.59 L188.75,217.49 L189.00,217.38 L189.25,217.27 L189.50,217.17 L189.75,217.06 L190.00,216.94 L190.25,216.83 L190.50,216.72 L190.59,216.68 M192.92,215.54 L193.00,215.50 L193.25,215.37 L193.50,215.24 L193.75,215.11 L194.00,214.97 L194.25,214.84 L194.50,214.70 L194.75,214.56 L195.00,214.42 L195.25,214.28 L195.50,214.13 L195.56,214.10 M197.85,212.68 L198.00,212.59 L198.25,212.42 L198.50,212.26 L198.75,212.09 L199.00,211.92 L199.25,211.74 L199.50,211.57 L199.75,211.39 L200.00,211.21 L200.25,211.03 L200.50,210.85 L200.75,210.66 L201.00,210.47 L201.25,210.28 L201.50,210.09 L201.75,209.89 L202.00,209.70 L202.25,209.50 L202.50,209.29 L202.75,209.09 L203.00,208.88 L203.25,208.67 L203.50,208.46 L203.75,208.25 L203.76,208.24 M205.84,206.68 L206.00,206.56 L206.25,206.37 L206.50,206.17 L206.75,205.97 L207.00,205.77 L207.25,205.57 L207.50,205.36 L207.75,205.15 L208.00,204.94 L208.17,204.79 M210.17,202.97 L210.25,202.89 L210.50,202.65 L210.75,202.41 L211.00,202.16 L211.25,201.91 L211.50,201.65 L211.75,201.39 L212.00,201.13 L212.25,200.87 L212.50,200.60 L212.75,200.33 L213.00,200.06 L213.25,199.78 L213.50,199.50 L213.75,199.22 L214.00,198.93 L214.25,198.64 L214.50,198.35 L214.75,198.05 L215.00,197.75 L215.18,197.53 M216.73,195.45 L216.75,195.43 L217.00,195.06 L217.25,194.68 L217.50,194.31 L217.75,193.94 L218.00,193.56 L218.25,193.19 L218.40,192.96 M219.89,190.71 L220.00,190.55 L220.25,190.17 L220.50,189.80 L220.75,189.43 L221.00,189.06 L221.25,188.69 L221.50,188.33 L221.75,187.96 L222.00,187.60 L222.25,187.25 L222.50,186.90 L222.75,186.55 L223.00,186.21 L223.25,185.87 L223.50,185.54 L223.75,185.21 L224.00,184.89 L224.17,184.67 M225.88,182.72 L226.00,182.59 L226.25,182.34 L226.50,182.11 L226.75,181.88 L227.00,181.66 L227.25,181.46 L227.50,181.26 L227.75,181.08 L228.00,180.91 L228.18,180.80 M230.70,179.91 L230.75,179.91 L231.00,179.90 L231.32,180.20 L232.01,181.20 L232.31,182.20 L232.55,183.20 L232.73,184.20 L232.88,185.20 L233.01,186.20 L233.05,186.54 M233.43,189.11 L233.44,189.20 L233.59,190.20 L233.73,191.20 L233.85,192.08 M234.21,194.76 L234.27,195.20 L234.40,196.20 L234.55,197.20 L234.70,198.20 L234.87,199.20 L235.05,200.20 L235.25,201.20 L235.42,202.05 M235.93,204.60 L236.04,205.20 L236.21,206.20 L236.38,207.20 L236.44,207.56 M236.86,210.23 L237.01,211.20 L237.16,212.20 L237.45,213.56 L237.95,215.45 L238.45,216.88 L238.67,217.38 M239.91,219.66 L239.95,219.72 L240.45,220.44 L240.95,221.10 L241.45,221.71 L241.74,222.03 M243.79,223.77 L243.95,223.88 L244.45,224.21 L244.95,224.52 L245.45,224.80 L245.95,225.07 L246.45,225.31 L246.95,225.54 L247.45,225.75 L247.95,225.94 L248.45,226.13 L248.95,226.30 L249.45,226.47 L249.95,226.62 L250.45,226.78 L250.51,226.79 M253.02,227.45 L253.45,227.55 L253.95,227.65 L254.45,227.75 L254.95,227.84 L255.45,227.92 L255.95,228.00 L255.97,228.01 M258.65,228.37 L258.95,228.40 L259.45,228.46 L259.95,228.52 L260.45,228.57 L260.95,228.62 L261.45,228.67 L261.95,228.72 L262.45,228.77 L262.95,228.83 L263.45,228.88 L263.95,228.93 L264.45,228.98 L264.95,229.03 L265.45,229.09 L265.95,229.14 L266.01,229.14 M268.60,229.39 L268.95,229.42 L269.45,229.46 L269.95,229.49 L270.45,229.52 L270.95,229.55 L271.45,229.58 L271.59,229.58 M274.29,229.68 L274.45,229.68 L274.95,229.70 L275.45,229.72 L275.95,229.73 L276.45,229.75 L276.95,229.76 L277.45,229.77 L277.95,229.79 L278.45,229.80 L278.95,229.81 L279.45,229.83 L279.95,229.84 L280.45,229.85 L280.95,229.86 L281.45,229.87 L281.68,229.88 M284.28,229.93 L284.45,229.94 L284.95,229.95 L285.45,229.96 L285.95,229.97 L286.45,229.97 L286.95,229.98 L287.28,229.99 M289.98,230.03 L290.45,230.04 L290.95,230.05 L291.45,230.06 L291.95,230.06 L292.45,230.07 L292.95,230.08 L293.45,230.08 L293.95,230.09 L294.45,230.10 L294.95,230.10 L295.45,230.11 L295.95,230.12 L296.45,230.13 L296.95,230.13 L297.38,230.14 M299.98,230.17 L300.45,230.18 L300.95,230.19 L301.45,230.19 L301.95,230.20 L302.45,230.21 L302.95,230.21 L302.98,230.21 M305.68,230.25 L305.95,230.25 L306.45,230.26 L306.95,230.27 L307.45,230.27 L307.95,230.28 L308.45,230.29 L308.95,230.29 L309.45,230.30 L309.95,230.30 L310.45,230.31 L310.95,230.32 L311.45,230.32 L311.95,230.33 L312.45,230.33 L312.95,230.34 L313.08,230.34 M315.68,230.37 L315.95,230.37 L316.45,230.38 L316.95,230.38 L317.45,230.39 L317.95,230.39 L318.45,230.40 L318.68,230.40 M321.38,230.43 L321.45,230.43 L321.95,230.44 L322.45,230.44 L322.95,230.45 L323.45,230.45 L323.95,230.46 L324.45,230.46 L324.95,230.47 L325.45,230.47 L325.95,230.48 L326.45,230.48 L326.95,230.49 L327.45,230.49 L327.95,230.49 L328.45,230.50 L328.78,230.50 M331.38,230.53 L331.45,230.53 L331.95,230.53 L332.45,230.54 L332.95,230.54 L333.45,230.54 L333.95,230.55 L334.38,230.55 M337.08,230.58 L337.45,230.58 L337.95,230.58 L338.45,230.59 L338.95,230.59 L339.45,230.60 L339.95,230.60 L340.45,230.60 L340.95,230.61 L341.45,230.61 L341.95,230.62 L342.45,230.62 L342.95,230.62 L343.45,230.63 L343.95,230.63 L344.45,230.64 L344.48,230.64 M347.08,230.66 L347.45,230.66 L347.95,230.67 L348.45,230.67 L348.95,230.68 L349.45,230.68 L349.95,230.69 L350.08,230.69 M352.78,230.71 L352.95,230.71 L353.45,230.72 L353.95,230.72 L354.45,230.73 L354.95,230.73 L355.45,230.74 L355.95,230.74 L356.45,230.75 L356.95,230.75 L357.45,230.75 L357.95,230.76 L358.45,230.76 L358.95,230.77 L359.45,230.77 L359.95,230.78 L360.18,230.78 M362.78,230.80 L362.95,230.80 L363.45,230.81 L363.95,230.81 L364.45,230.82 L364.95,230.82 L365.45,230.82 L365.78,230.83 M368.48,230.85 L368.95,230.85 L369.45,230.86 L369.95,230.86 L370.45,230.87 L370.95,230.87 L371.45,230.87 L371.95,230.88 L372.45,230.88 L372.95,230.89 L373.45,230.89 L373.95,230.89 L374.45,230.90 L374.95,230.90 L375.45,230.90 L375.88,230.91 M378.48,230.92 L378.95,230.93 L379.45,230.93 L379.95,230.93 L380.45,230.94 L380.95,230.94 L381.45,230.94 L381.48,230.94 M384.18,230.96 L384.45,230.96 L384.95,230.96 L385.45,230.96 L385.95,230.97 L386.45,230.97 L386.95,230.97 L387.45,230.97 L387.95,230.97 L388.45,230.98 L388.95,230.98 L389.45,230.98 L389.95,230.98 L390.45,230.98 L390.95,230.99 L391.45,230.99 L391.58,230.99 M394.18,230.99 L394.45,230.99 L394.95,231.00 L395.45,231.00 L395.95,231.00 L396.45,231.00 L396.95,231.00 L397.18,231.00 M399.88,231.00 L399.95,231.00 L400.45,231.00 L400.95,231.00 L401.45,231.00 L401.95,231.00 L402.45,231.00 L402.95,231.00 L403.45,231.00 L403.95,231.00 L404.45,231.00 L404.95,231.00 L405.45,231.00 L405.95,231.00 L406.45,231.00 L406.95,231.00 L407.28,231.00 M409.88,231.00 L409.95,231.00 L410.45,231.00 L410.95,231.00 L411.45,231.00 L411.95,231.00 L412.45,231.00 L412.88,231.00" stroke="#664422" stroke-width="2.8"/>
</g>
<g fill="none" stroke="#8a8a8a" stroke-width="1" shape-rendering="crispEdges">
<rect x="53.5" y="0.5" width="361.0" height="231.0"/>
<path d="M53.50,231.50 V229.00 M53.50,0.50 V3.50 M69.50,231.50 V229.00 M69.50,0.50 V3.50 M86.50,231.50 V227.20 M86.50,0.50 V5.50 M102.50,231.50 V229.00 M102.50,0.50 V3.50 M119.50,231.50 V229.00 M119.50,0.50 V3.50 M135.50,231.50 V229.00 M135.50,0.50 V3.50 M151.50,231.50 V229.00 M151.50,0.50 V3.50 M168.50,231.50 V227.20 M168.50,0.50 V5.50 M184.50,231.50 V229.00 M184.50,0.50 V3.50 M201.50,231.50 V229.00 M201.50,0.50 V3.50 M217.50,231.50 V229.00 M217.50,0.50 V3.50 M234.50,231.50 V229.00 M234.50,0.50 V3.50 M250.50,231.50 V227.20 M250.50,0.50 V5.50 M266.50,231.50 V229.00 M266.50,0.50 V3.50 M283.50,231.50 V229.00 M283.50,0.50 V3.50 M299.50,231.50 V229.00 M299.50,0.50 V3.50 M316.50,231.50 V229.00 M316.50,0.50 V3.50 M332.50,231.50 V227.20 M332.50,0.50 V5.50 M348.50,231.50 V229.00 M348.50,0.50 V3.50 M365.50,231.50 V229.00 M365.50,0.50 V3.50 M381.50,231.50 V229.00 M381.50,0.50 V3.50 M398.50,231.50 V229.00 M398.50,0.50 V3.50 M414.50,231.50 V227.20 M414.50,0.50 V5.50 M53.50,232.50 H57.70 M414.50,232.50 H410.30 M53.50,221.50 H56.00 M414.50,221.50 H412.00 M53.50,210.50 H56.00 M414.50,210.50 H412.00 M53.50,200.50 H56.00 M414.50,200.50 H412.00 M53.50,189.50 H56.00 M414.50,189.50 H412.00 M53.50,179.50 H57.70 M414.50,179.50 H410.30 M53.50,168.50 H56.00 M414.50,168.50 H412.00 M53.50,158.50 H56.00 M414.50,158.50 H412.00 M53.50,147.50 H56.00 M414.50,147.50 H412.00 M53.50,137.50 H56.00 M414.50,137.50 H412.00 M53.50,126.50 H57.70 M414.50,126.50 H410.30 M53.50,116.50 H56.00 M414.50,116.50 H412.00 M53.50,105.50 H56.00 M414.50,105.50 H412.00 M53.50,95.50 H56.00 M414.50,95.50 H412.00 M53.50,84.50 H56.00 M414.50,84.50 H412.00 M53.50,74.50 H57.70 M414.50,74.50 H410.30 M53.50,63.50 H56.00 M414.50,63.50 H412.00 M53.50,53.50 H56.00 M414.50,53.50 H412.00 M53.50,42.50 H56.00 M414.50,42.50 H412.00 M53.50,32.50 H56.00 M414.50,32.50 H412.00 M53.50,21.50 H57.70 M414.50,21.50 H410.30 M53.50,11.50 H56.00 M414.50,11.50 H412.00" stroke="#808080" stroke-width="1"/>
</g>
<g font-size="11" fill="#1a1a1a"><text transform="translate(86.92,242.90) scale(1.000,1.060)" text-anchor="middle">1.10</text><text transform="translate(168.96,242.90) scale(1.000,1.060)" text-anchor="middle">1.15</text><text transform="translate(251.01,242.90) scale(1.000,1.060)" text-anchor="middle">1.20</text><text transform="translate(333.05,242.90) scale(1.000,1.060)" text-anchor="middle">1.25</text><text transform="translate(415.10,242.90) scale(1.000,1.060)" text-anchor="middle">1.30</text><text transform="translate(51.00,236.40) scale(1.000,1.060)" text-anchor="end">0</text><text transform="translate(51.00,183.40) scale(1.000,1.060)" text-anchor="end">500</text><text transform="translate(51.00,130.40) scale(1.000,1.060)" text-anchor="end">1000</text><text transform="translate(51.00,78.40) scale(1.000,1.060)" text-anchor="end">1500</text><text transform="translate(51.00,25.40) scale(1.000,1.060)" text-anchor="end">2000</text></g>
<g font-size="15">
<g fill="#1a1aa6" stroke="#1a1aa6" stroke-width="0.12"><text transform="translate(79.00,48.80) scale(1.100,1.060)" font-style="italic">β</text><text transform="translate(92.80,48.50) scale(1.050,1.100)" >=</text><text transform="translate(105.90,48.80) scale(1.000,1.120)" >1</text><text transform="translate(117.30,50.80) scale(1.000,1.000)" font-size="20">×</text><text transform="translate(131.60,48.80) scale(1.000,1.120)" >10</text><text transform="translate(146.20,43.80) scale(1.000,1.080)" font-size="12">−4</text></g>
<g fill="#12a612" stroke="#12a612" stroke-width="0.12"><text transform="translate(79.00,79.40) scale(1.100,1.060)" font-style="italic">β</text><text transform="translate(92.80,79.10) scale(1.050,1.100)" >=</text><text transform="translate(105.90,79.40) scale(1.000,1.120)" >2</text><text transform="translate(117.30,81.40) scale(1.000,1.000)" font-size="20">×</text><text transform="translate(131.60,79.40) scale(1.000,1.120)" >10</text><text transform="translate(146.20,74.40) scale(1.000,1.080)" font-size="12">−4</text></g>
<g fill="#6e4a2a" stroke="#6e4a2a" stroke-width="0.12"><text transform="translate(79.00,110.30) scale(1.100,1.060)" font-style="italic">β</text><text transform="translate(92.80,110.00) scale(1.050,1.100)" >=</text><text transform="translate(105.90,110.30) scale(1.000,1.120)" >4</text><text transform="translate(117.30,112.30) scale(1.000,1.000)" font-size="20">×</text><text transform="translate(131.60,110.30) scale(1.000,1.120)" >10</text><text transform="translate(146.20,105.30) scale(1.000,1.080)" font-size="12">−4</text></g>
<text transform="translate(151.00,193.70) scale(1.027,1.080)" fill="#1a1ab4" stroke="#1a1ab4" stroke-width="0.12">Exact</text>
<text transform="translate(293.20,193.80) scale(1.030,1.080)" fill="#aa1414" stroke="#aa1414" stroke-width="0.12">Slow−roll approx.</text>
<g fill="#1a1a1a"><text transform="translate(222.4,266.8) scale(1.45,1.12)" font-style="italic">ϕ</text><text x="232.0" y="269.9" font-size="21">/</text><text x="238.3" y="266.8">v</text></g>
</g>
<g font-size="13" fill="#1a1a1a">
<text x="3" y="111">dN</text>
<text x="3.7" y="125.7">d</text><text transform="translate(10.2,125.7) scale(1.18,0.97)" font-style="italic">ϕ</text>
<rect x="2.6" y="113.1" width="17.2" height="1" fill="#1a1a1a"/>
</g>
</svg>
</body></html>
